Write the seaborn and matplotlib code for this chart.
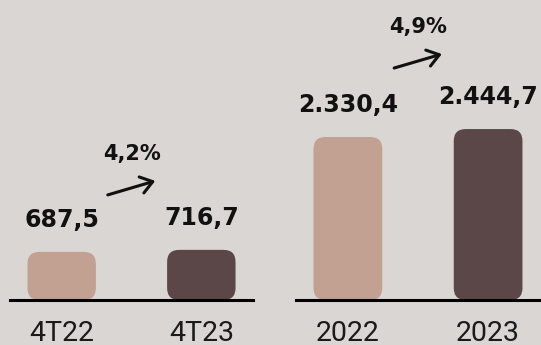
import matplotlib
matplotlib.use("Agg")
import matplotlib.pyplot as plt
import matplotlib.transforms as mtrans
from matplotlib.patches import FancyBboxPatch
import pandas as pd
import seaborn as sns

# Quarterly and annual totals
quarter_labels = ["4T22", "4T23"]
quarter_values = [687.5, 716.7]
quarter_growth = "4,2%"

year_labels = ["2022", "2023"]
year_values = [2330.4, 2444.7]
year_growth = "4,9%"

BG = "#d9d6d3"
BAR_COLORS = ["#c2a192", "#5b4748"]

sns.set_theme(style="white")
plt.rcParams["font.family"] = ["DejaVu Sans"]

W, H = 541, 345
fig = plt.figure(figsize=(W / 100, H / 100), dpi=100, facecolor=BG)
base_px = 45  # baseline height from the bottom, in pixels
ax_q = fig.add_axes([10 / W, base_px / H, 243 / W, (H - base_px) / H])
ax_y = fig.add_axes([296 / W, base_px / H, 244 / W, (H - base_px) / H])

YMAX = 4290
XLIM = (-0.37, 1.37)


def fmt(v):
    s = f"{v:,.1f}"
    return s.replace(",", "X").replace(".", ",").replace("X", ".")


def px(ax, dy):
    """Transform shifting data coordinates up by dy pixels."""
    return ax.transData + mtrans.ScaledTranslation(0, dy / fig.dpi, fig.dpi_scale_trans)


def panel(ax, labels, values, growth, lift_start, lift_end):
    df = pd.DataFrame({"periodo": labels, "valor": values})
    sns.barplot(data=df, x="periodo", y="valor", hue="periodo",
                palette=BAR_COLORS, width=0.49, legend=False, ax=ax,
                saturation=1)
    ax.set_facecolor(BG)
    ax.set_xlim(*XLIM)
    ax.set_ylim(0, YMAX)

    # swap plain bars for rounded ones
    bbox = ax.get_window_extent()
    x_per_px = (XLIM[1] - XLIM[0]) / bbox.width
    y_per_px = YMAX / bbox.height
    radius_px = 12
    for patch, color in zip(list(ax.patches), BAR_COLORS):
        x, w, h = patch.get_x(), patch.get_width(), patch.get_height()
        patch.remove()
        ax.add_patch(FancyBboxPatch(
            (x, 0), w, h,
            boxstyle=f"round,pad=0,rounding_size={radius_px * x_per_px}",
            mutation_aspect=y_per_px / x_per_px,
            facecolor=color, edgecolor="none", zorder=2))

    for i, v in enumerate(values):
        ax.annotate(fmt(v), xy=(i, v), xytext=(0, 32 * 72 / 100),
                    textcoords="offset points", ha="center", va="center",
                    fontsize=17, fontweight="bold", color="#111111")

    ax.annotate("", xy=(0.67, values[1]), xycoords=px(ax, lift_end),
                xytext=(0.33, values[0]), textcoords=px(ax, lift_start),
                arrowprops=dict(arrowstyle="->,head_length=0.42,head_width=0.3",
                                lw=2.2, color="#111111", shrinkA=0, shrinkB=0,
                                mutation_scale=20))
    ax.annotate(growth, xy=(0.5, values[1]), xycoords=px(ax, lift_end + 27),
                ha="center", va="center", fontsize=15, fontweight="bold",
                color="#111111")

    ax.set_xticks([0, 1])
    ax.set_xticklabels(labels)
    ax.tick_params(axis="x", length=0, pad=14.5, labelsize=20.5, colors="#1a1a1a")
    for t in ax.get_xticklabels():
        t.set_family(["Roboto", "DejaVu Sans"])
        t.set_fontweight("normal")
    ax.set_yticks([])
    ax.set_xlabel("")
    ax.set_ylabel("")
    for side in ("left", "top", "right"):
        ax.spines[side].set_visible(False)
    ax.spines["bottom"].set_color("black")
    ax.spines["bottom"].set_linewidth(2.2)
    ax.spines["bottom"].set_zorder(3)


panel(ax_q, quarter_labels, quarter_values, quarter_growth, 57, 69)
panel(ax_y, year_labels, year_values, year_growth, 69, 75)

fig.savefig("out.png", dpi=100, facecolor=BG)
